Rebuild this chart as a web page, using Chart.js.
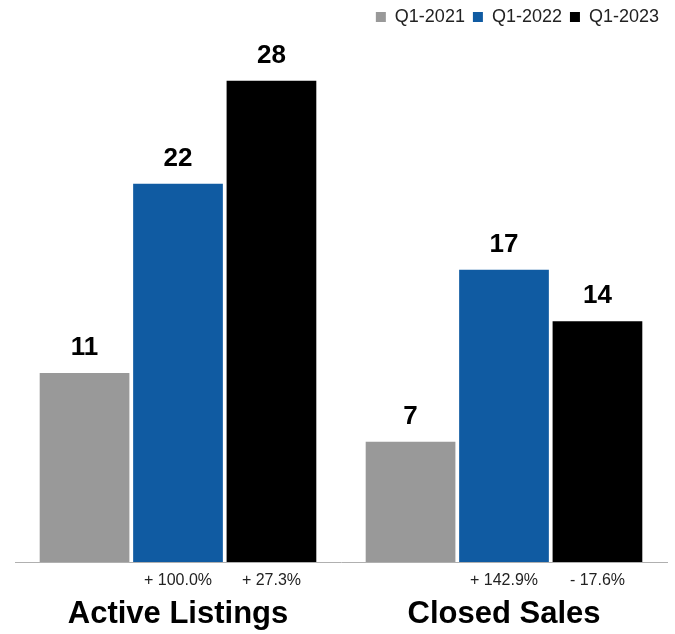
<!DOCTYPE html>
<html>
<head>
<meta charset="utf-8">
<script src="https://cdn.jsdelivr.net/npm/chart.js@4.4.0/dist/chart.umd.min.js"></script>
<style>
  html, body { margin: 0; padding: 0; background: #fff; }
  #wrap { width: 675px; height: 634px; }
</style>
</head>
<body>
<div id="wrap"><canvas id="barChart"></canvas></div>
<script>
// chart data
const categories = [`Active Listings`, `Closed Sales`]
const q12021 = [11, 7]
const q12022 = [22, 17]
const q12023 = [28, 14]
// year over year change, shown under the 2022 and 2023 bars
const change2022 = [`+ 100.0%`, `+ 142.9%`]
const change2023 = [`+ 27.3%`, `- 17.6%`]

const FONT = `"Liberation Sans", Arial, Helvetica, sans-serif`

// value above each bar + change under the baseline
const barLabels = {
  id: `barLabels`,
  afterDatasetsDraw(chart) {
    const ctx = chart.ctx
    ctx.save()
    ctx.textAlign = `center`
    chart.data.datasets.forEach((ds, i) => {
      chart.getDatasetMeta(i).data.forEach((bar, j) => {
        ctx.fillStyle = `#000`
        ctx.font = `bold 26px ${FONT}`
        ctx.textBaseline = `alphabetic`
        ctx.fillText(ds.data[j], bar.x, bar.y - 18)
        if (ds.changes) {
          ctx.fillStyle = `#222`
          ctx.font = `16px ${FONT}`
          ctx.textBaseline = `middle`
          ctx.fillText(ds.changes[j], bar.x, chart.chartArea.bottom + 19)
        }
      })
    })
    ctx.restore()
  }
}

new Chart(document.querySelector(`#barChart`).getContext(`2d`), {
  type: `bar`,
  data: {
    labels: categories,
    datasets: [
      { label: `Q1-2021`, data: q12021, backgroundColor: `#999999` },
      { label: `Q1-2022`, data: q12022, backgroundColor: `#105ba2`, changes: change2022 },
      { label: `Q1-2023`, data: q12023, backgroundColor: `#000000`, changes: change2023 }
    ]
  },
  options: {
    responsive: true,
    maintainAspectRatio: false,
    animation: false,
    categoryPercentage: 0.86,
    barPercentage: 0.96,
    layout: { padding: { left: 15, right: 8, bottom: 0, top: 0 } },
    plugins: {
      legend: {
        position: `top`,
        align: `end`,
        labels: {
          boxWidth: 10,
          boxHeight: 10,
          padding: 8,
          color: `#222`,
          font: { family: FONT, size: 18 }
        }
      },
      tooltip: { enabled: false }
    },
    scales: {
      x: {
        grid: { display: false, drawTicks: false },
        border: { display: true, color: `#b0b0b0`, width: 1 },
        ticks: {
          color: `#000`,
          padding: 34,
          font: { family: FONT, size: 31, weight: `bold`, lineHeight: 1.2 }
        },
        // keep the axis band tight to the labels
        afterFit: scale => { scale.height = 72 }
      },
      y: {
        display: false,
        min: 0,
        max: 30.6
      }
    }
  },
  plugins: [barLabels]
})
</script>
</body>
</html>
